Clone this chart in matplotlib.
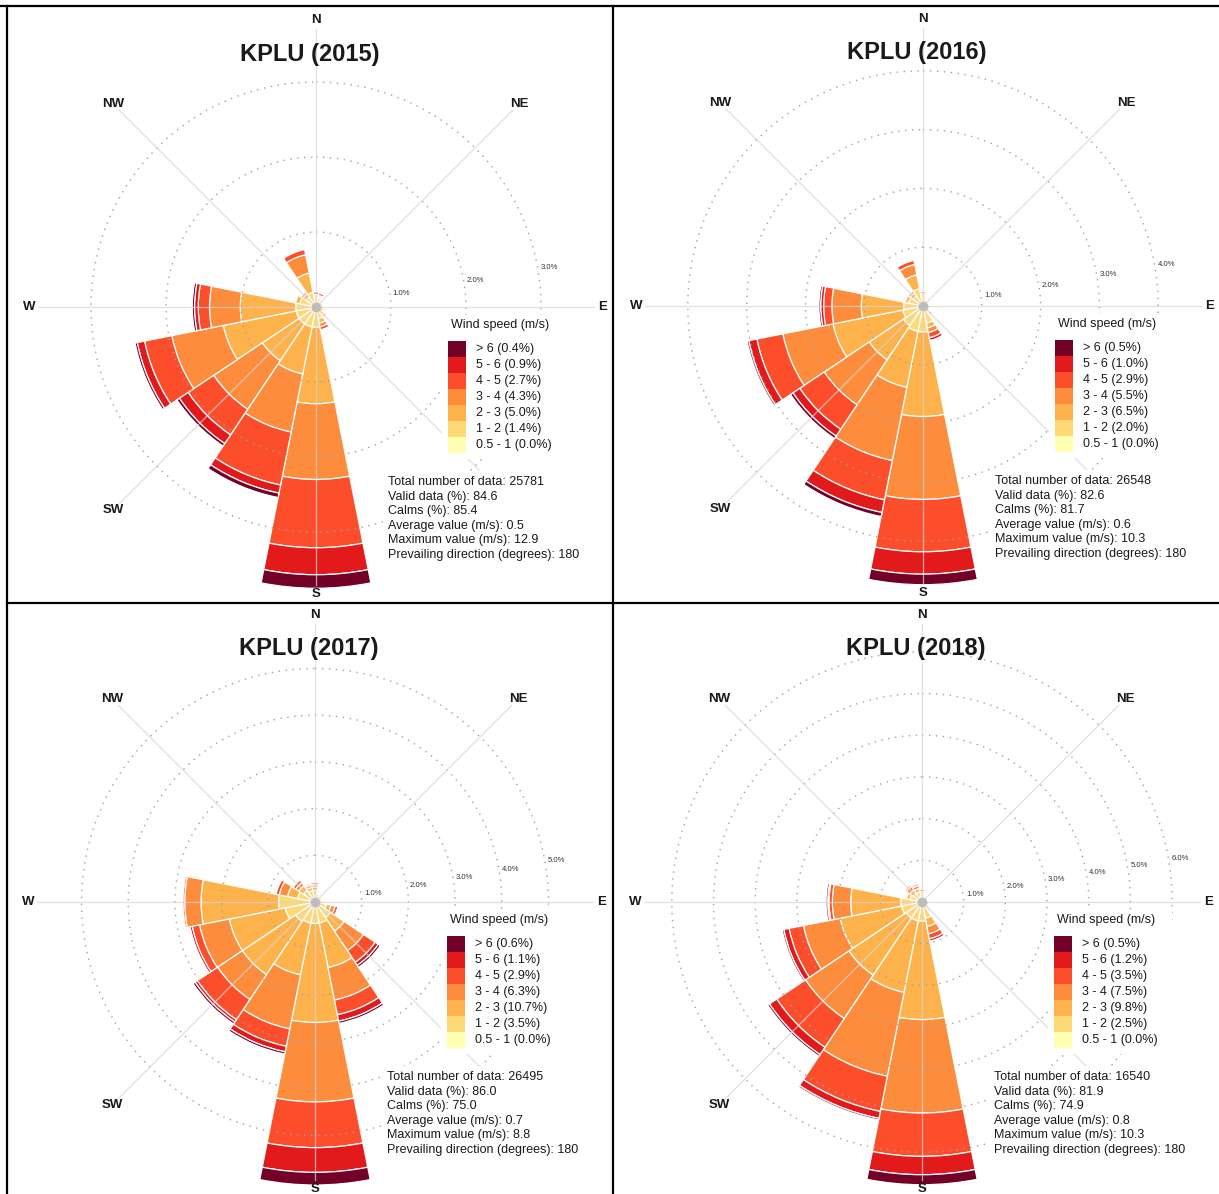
import numpy as np
import matplotlib
matplotlib.use("Agg")
import matplotlib.pyplot as plt
from matplotlib.patches import Rectangle
from matplotlib.lines import Line2D

plt.rcParams['font.family'] = ['Liberation Sans', 'DejaVu Sans']

# Wind direction sectors (degrees clockwise from north)
directions = np.arange(0, 360, 22.5)

speed_bins = ['0.5 - 1', '1 - 2', '2 - 3', '3 - 4', '4 - 5', '5 - 6', '> 6']
bin_colors = ['#ffffb2', '#fed976', '#feb24c', '#fd8d3c', '#fc4e2a', '#e31a1c', '#730026']

years = [2015, 2016, 2017, 2018]

# frequency (%) per speed bin (rows, same order as speed_bins) and direction (columns)
freq_2015 = [
    [0] * 16,
    [.12, .12, .10, .10, .10, .12, .14, .16, .27, .27, .27, .27, .27, .22, .16, .20],
    [.03, .02, .02, .01, .01, .02, .03, .06, 1.02, .64, .59, .99, .74, .06, .05, .26],
    [.02, .02, 0, 0, 0, 0, 0, .05, 1.01, .79, .78, .70, .41, .01, .03, .25],
    [.03, .03, 0, 0, 0, 0, 0, .04, .91, .72, .41, .37, .15, 0, 0, .07],
    [0, 0, 0, 0, 0, 0, 0, 0, .36, .11, .14, .10, .05, 0, 0, 0],
    [0, 0, 0, 0, 0, 0, 0, 0, .18, .06, .04, .03, .03, 0, 0, 0],
]
freq_2016 = [
    [0] * 16,
    [.15, .12, .10, .10, .10, .12, .15, .30, .44, .44, .40, .35, .33, .25, .20, .30],
    [.04, .03, .02, .01, .01, .02, .04, .08, 1.44, .97, .70, 1.21, .72, .06, .06, .24],
    [.03, .02, 0, 0, 0, 0, .02, .08, 1.41, 1.27, .92, .87, .50, .02, .04, .18],
    [.03, 0, 0, 0, 0, 0, 0, .09, .89, .68, .50, .45, .14, 0, 0, .07],
    [0, 0, 0, 0, 0, 0, 0, .05, .38, .22, .14, .14, .05, 0, 0, 0],
    [0, 0, 0, 0, 0, 0, 0, .01, .18, .07, .05, .03, .03, 0, 0, 0],
]
freq_2017 = [
    [0] * 16,
    [.25, .18, .15, .15, .18, .25, .40, .46, .46, .46, .50, .65, .78, .38, .30, .25],
    [.07, .03, .02, .02, .03, .10, .35, .97, 2.12, 1.13, 1.37, 1.22, 1.66, .22, .12, .07],
    [.05, .02, 0, 0, 0, .09, .50, .71, 1.70, 1.18, .64, .65, .35, .18, .08, .05],
    [.04, 0, 0, 0, 0, .06, .30, .32, .98, .38, .52, .16, .04, .07, .06, .03],
    [0, 0, 0, 0, 0, 0, .08, .14, .53, .12, .06, .05, .02, 0, 0, 0],
    [0, 0, 0, 0, 0, 0, .05, .05, .27, .05, .05, .02, .02, 0, 0, 0],
]
freq_2018 = [
    [0] * 16,
    [.20, .15, .12, .12, .12, .15, .20, .40, .46, .46, .46, .50, .51, .30, .25, .25],
    [.05, .03, .02, .02, .03, .03, .05, .20, 2.36, 1.75, 1.65, 1.50, 1.20, .08, .10, .08],
    [.05, 0, 0, 0, 0, 0, .03, .18, 2.24, 2.05, 1.25, .90, .44, 0, .10, .07],
    [0, 0, 0, 0, 0, 0, 0, .12, 1.04, .86, .83, .35, .08, 0, .04, .04],
    [0, 0, 0, 0, 0, 0, 0, .06, .44, .17, .21, .13, .03, 0, 0, 0],
    [0, 0, 0, 0, 0, 0, 0, .02, .24, .04, .05, .04, .04, 0, 0, 0],
]
freqs = [freq_2015, freq_2016, freq_2017, freq_2018]

# legend percentages per bin (same order as speed_bins)
bin_pct_2015 = ['0.0', '1.4', '5.0', '4.3', '2.7', '0.9', '0.4']
bin_pct_2016 = ['0.0', '2.0', '6.5', '5.5', '2.9', '1.0', '0.5']
bin_pct_2017 = ['0.0', '3.5', '10.7', '6.3', '2.9', '1.1', '0.6']
bin_pct_2018 = ['0.0', '2.5', '9.8', '7.5', '3.5', '1.2', '0.5']
bin_pcts = [bin_pct_2015, bin_pct_2016, bin_pct_2017, bin_pct_2018]

total_data = [25781, 26548, 26495, 16540]
valid_data = ['84.6', '82.6', '86.0', '81.9']
calms = ['85.4', '81.7', '75.0', '74.9']
avg_speed = ['0.5', '0.6', '0.7', '0.8']
max_speed = ['12.9', '10.3', '8.8', '10.3']
prevailing_dir = [180, 180, 180, 180]

ring_counts = [3, 4, 5, 6]

# layout (pixels)
W, H, DPI = 1219, 1194, 100
centers = [(316, 307), (923, 306), (315, 902), (922, 902)]
px_per_pct = [75, 58.8, 46.7, 41.7]
R = 300
compass = {'N': 0, 'NE': 45, 'E': 90, 'S': 180, 'SW': 225, 'W': 270, 'NW': 315}
TXT = '#1a1a1a'


def fx(x):
    return x / W


def fy(y):
    return 1 - y / H


fig = plt.figure(figsize=(W / DPI, H / DPI), dpi=DPI)

for k, year in enumerate(years):
    cx, cy = centers[k]
    ppp = px_per_pct[k]
    ax = fig.add_axes([fx(cx - R), fy(cy + R), 2 * R / W, 2 * R / H], projection='polar')
    ax.set_theta_zero_location('N')
    ax.set_theta_direction(-1)
    ax.set_ylim(0, R / ppp)
    ax.set_facecolor('none')
    ax.axis('off')

    theta = np.radians(directions)
    width = np.radians(22.5)
    freq = np.array(freqs[k], dtype=float)
    bottom = np.zeros(len(directions))
    for i in range(len(speed_bins)):
        h = freq[i]
        m = h > 0
        if m.any():
            ax.bar(theta[m], h[m], width=width, bottom=bottom[m], color=bin_colors[i],
                   edgecolor='white', linewidth=0.9, zorder=2)
        bottom += h

    # dotted rings + labels
    t = np.linspace(0, 2 * np.pi, 500)
    for r in range(1, ring_counts[k] + 1):
        ax.plot(t, np.full_like(t, r), color='#a0a0a0', lw=1.0, ls=(0, (1, 4)), zorder=3)
        ax.text(np.radians(80), r + 3 / ppp, f'{r:.1f}%', ha='left', va='center',
                fontsize=5.6, color='#333333', zorder=4)

    # spokes
    for a in range(0, 360, 45):
        ax.plot([np.radians(a)] * 2, [0, 278 / ppp], color='#d6d6d6', lw=0.9,
                alpha=0.75, zorder=3)

    for name, a in compass.items():
        ax.text(np.radians(a), 287 / ppp, name, ha='center', va='center',
                fontsize=9.5, fontweight='bold', color=TXT, zorder=6)

    ax.plot(0, 0, 'o', color='#bdbdbd', ms=6, zorder=5)

    fig.text(fx(cx - 6), fy(cy - 253), f'KPLU ({year})', ha='center', va='center',
             fontsize=17, fontweight='bold', color=TXT)

    # legend
    fig.add_artist(Rectangle((fx(cx + 126), fy(cy + 152)), 124 / W, 144 / H,
                             transform=fig.transFigure, facecolor='white',
                             edgecolor='none', zorder=5))
    fig.text(fx(cx + 184), fy(cy + 18), 'Wind speed (m/s)', ha='center', va='center',
             fontsize=9, color=TXT, zorder=7)
    n = len(speed_bins)
    for j in range(n):
        i = n - 1 - j
        fig.add_artist(Rectangle((fx(cx + 132), fy(cy + 34 + 16 * (j + 1))), 18 / W, 16 / H,
                                 transform=fig.transFigure, facecolor=bin_colors[i],
                                 edgecolor='none', zorder=6))
        fig.text(fx(cx + 160), fy(cy + 42 + 16 * j), f'{speed_bins[i]} ({bin_pcts[k][i]}%)',
                 va='center', fontsize=9, color=TXT, zorder=7)

    # summary block
    fig.add_artist(Rectangle((fx(cx + 68), fy(cy + 256)), 207 / W, 92 / H,
                             transform=fig.transFigure, facecolor='white',
                             edgecolor='none', zorder=5))
    lines = [
        f'Total number of data: {total_data[k]}',
        f'Valid data (%): {valid_data[k]}',
        f'Calms (%): {calms[k]}',
        f'Average value (m/s): {avg_speed[k]}',
        f'Maximum value (m/s): {max_speed[k]}',
        f'Prevailing direction (degrees): {prevailing_dir[k]}',
    ]
    for i, s in enumerate(lines):
        fig.text(fx(cx + 72), fy(cy + 175 + 14.6 * i), s, va='center', fontsize=9,
                 color=TXT, zorder=7)

# table borders
for xs, ys in [([0, W], [5.5, 5.5]), ([7, 7], [5.5, H]), ([612.5, 612.5], [5.5, H]),
               ([7, W], [602.5, 602.5])]:
    fig.add_artist(Line2D([fx(v) for v in xs], [fy(v) for v in ys], color='black',
                          lw=1.6, transform=fig.transFigure, zorder=8))

fig.savefig('out.png', dpi=DPI)
